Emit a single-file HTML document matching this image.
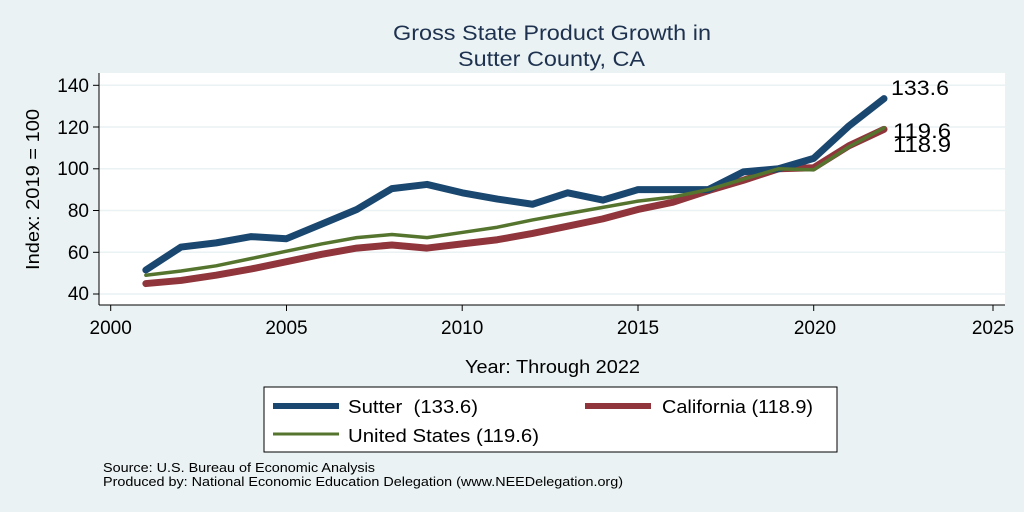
<!DOCTYPE html>
<html><head><style>
body{margin:0;background:#eaf2f3;}
svg{display:block;font-family:"Liberation Sans",sans-serif;}
</style></head><body>
<svg width="1024" height="512" viewBox="0 0 1024 512">
<rect width="1024" height="512" fill="#eaf2f3"/>
<text x="393" y="40" font-size="21" fill="#1e3250" textLength="318" lengthAdjust="spacingAndGlyphs">Gross State Product Growth in</text>
<text x="458" y="66" font-size="21" fill="#1e3250" textLength="187" lengthAdjust="spacingAndGlyphs">Sutter County, CA</text>
<rect x="99" y="73" width="906" height="232" fill="#fff"/>
<g stroke="#eaf2f3" stroke-width="1.5">
<line x1="99" x2="1005" y1="85.3" y2="85.3"/><line x1="99" x2="1005" y1="127" y2="127"/>
<line x1="99" x2="1005" y1="168.8" y2="168.8"/><line x1="99" x2="1005" y1="210.5" y2="210.5"/>
<line x1="99" x2="1005" y1="252.3" y2="252.3"/><line x1="99" x2="1005" y1="294" y2="294"/>
</g>
<g stroke="#000" stroke-width="1">
<line x1="99" x2="99" y1="73" y2="305"/><line x1="99" x2="1005" y1="305" y2="305"/>
<line x1="93" x2="99" y1="85.3" y2="85.3"/><line x1="93" x2="99" y1="127" y2="127"/>
<line x1="93" x2="99" y1="168.8" y2="168.8"/><line x1="93" x2="99" y1="210.5" y2="210.5"/>
<line x1="93" x2="99" y1="252.3" y2="252.3"/><line x1="93" x2="99" y1="294" y2="294"/>
<line x1="110.7" x2="110.7" y1="305" y2="311"/><line x1="286.5" x2="286.5" y1="305" y2="311"/>
<line x1="462.2" x2="462.2" y1="305" y2="311"/><line x1="638" x2="638" y1="305" y2="311"/>
<line x1="813.7" x2="813.7" y1="305" y2="311"/><line x1="993" x2="993" y1="305" y2="311"/>
</g>
<g font-size="19" text-anchor="end" fill="#000">
<text x="89" y="92">140</text><text x="89" y="134">120</text><text x="89" y="175">100</text>
<text x="89" y="217">80</text><text x="89" y="259">60</text><text x="89" y="300">40</text>
</g>
<g font-size="19" text-anchor="middle" fill="#000">
<text x="110.7" y="334">2000</text><text x="286.5" y="334">2005</text><text x="462.2" y="334">2010</text>
<text x="638" y="334">2015</text><text x="815" y="334">2020</text><text x="993" y="334">2025</text>
</g>
<text transform="translate(39,270) rotate(-90)" font-size="18" textLength="161" lengthAdjust="spacingAndGlyphs">Index: 2019 = 100</text>
<text x="465" y="373" font-size="18" textLength="175" lengthAdjust="spacingAndGlyphs">Year: Through 2022</text>
<g transform="matrix(35.15 0 0 -2.087 -70189.3 377.48)" fill="none" stroke-linejoin="round" stroke-linecap="round">
<polyline vector-effect="non-scaling-stroke" stroke="#90353b" stroke-width="7" points="2001,45 2002,46.5 2003,49 2004,52 2005,55.5 2006,59 2007,62 2008,63.5 2009,62 2010,64 2011,66 2012,69 2013,72.5 2014,76 2015,80.5 2016,84 2017,89.5 2018,94.5 2019,100 2020,100.5 2021,111 2022,118.9"/>
<polyline vector-effect="non-scaling-stroke" stroke="#1a476f" stroke-width="7" points="2001,51.5 2002,62.5 2003,64.5 2004,67.5 2005,66.5 2006,73.5 2007,80.5 2008,90.5 2009,92.5 2010,88.5 2011,85.5 2012,83 2013,88.5 2014,85 2015,90 2016,90 2017,90 2018,98.5 2019,100 2020,105 2021,120.5 2022,133.6"/>
<polyline vector-effect="non-scaling-stroke" stroke="#55752f" stroke-width="3.5" points="2001,49 2002,51 2003,53.5 2004,57 2005,60.5 2006,64 2007,67 2008,68.5 2009,67 2010,69.5 2011,72 2012,75.5 2013,78.5 2014,81.5 2015,84.5 2016,86.5 2017,90 2018,95 2019,100 2020,99.5 2021,110.5 2022,119.6"/>
</g>
<g font-size="21" fill="#000">
<text x="891" y="95" textLength="58" lengthAdjust="spacingAndGlyphs">133.6</text>
<text x="893" y="138" textLength="58" lengthAdjust="spacingAndGlyphs">119.6</text>
<text x="893" y="152" textLength="58" lengthAdjust="spacingAndGlyphs">118.9</text>
</g>
<rect x="264" y="387" width="573" height="65" fill="#fff" stroke="#000" stroke-width="1"/>
<line x1="273" x2="339" y1="406" y2="406" stroke="#1a476f" stroke-width="6"/>
<line x1="585" x2="651" y1="406" y2="406" stroke="#90353b" stroke-width="6"/>
<line x1="273" x2="339" y1="434" y2="434" stroke="#55752f" stroke-width="3"/>
<g font-size="18" fill="#000">
<text x="348" y="413" textLength="130" lengthAdjust="spacingAndGlyphs" xml:space="preserve">Sutter  (133.6)</text>
<text x="662" y="413" textLength="151" lengthAdjust="spacingAndGlyphs">California (118.9)</text>
<text x="348" y="442" textLength="191" lengthAdjust="spacingAndGlyphs">United States (119.6)</text>
</g>
<g font-size="13" fill="#000">
<text x="103" y="472" textLength="272" lengthAdjust="spacingAndGlyphs">Source: U.S. Bureau of Economic Analysis</text>
<text x="103" y="486" textLength="520" lengthAdjust="spacingAndGlyphs">Produced by: National Economic Education Delegation (www.NEEDelegation.org)</text>
</g>
</svg>
</body></html>
